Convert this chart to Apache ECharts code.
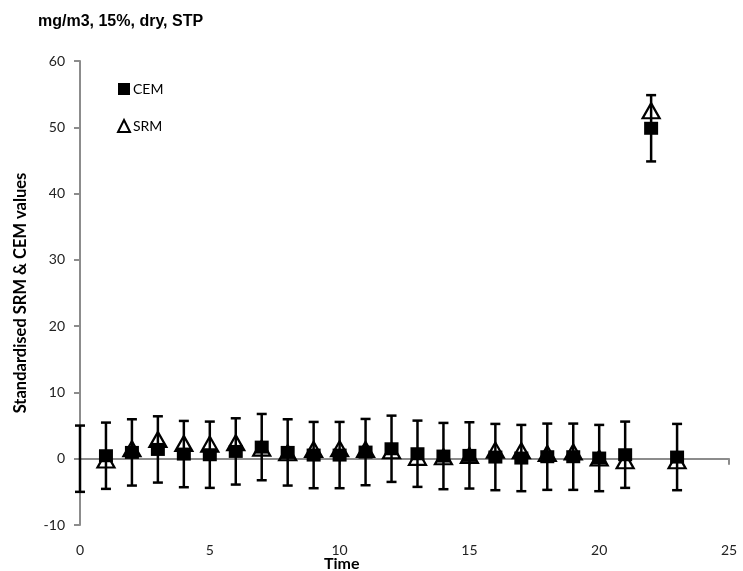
<!DOCTYPE html>
<html>
<head>
<meta charset="utf-8">
<script src="https://cdn.jsdelivr.net/npm/echarts@6/dist/echarts.min.js"></script>
<style>
html,body{margin:0;padding:0;background:#fff;}
#chart{width:743px;height:571px;}
</style>
</head>
<body>
<div id="chart"></div>
<script>
// ---- data ----
const times = [1,2,3,4,5,6,7,8,9,10,11,12,13,14,15,16,17,18,19,20,21,22,23];
const cem   = [0.45,0.95,1.4,0.7,0.6,1.1,1.75,0.95,0.55,0.55,1.0,1.5,0.75,0.4,0.5,0.25,0.1,0.3,0.3,0.1,0.6,49.85,0.25];
const srm   = [-0.2,1.5,2.9,2.3,2.2,2.4,1.6,0.9,1.4,1.5,1.4,1.2,0.2,0.3,0.5,1.3,1.2,0.8,1.0,0.1,-0.3,52.5,-0.3];
// error bars (CEM ± 5), plus a lone bar drawn at time 0
const errX    = [0].concat(times);
const errMid  = [0].concat(cem);
const errHalf = [5,5,5,5,5,5,5,5,5,5,5,5,5,5,5,5,5,5,5,5,5,5,5,5];
const xTicks = {min:0, max:25, interval:5};
const yTicks = {min:-10, max:60, interval:10};
const titleText = 'mg/m3, 15%, dry, STP';
const yTitle = 'Standardised SRM & CEM values';
const xTitle = 'Time';

const cemData = times.map((t,i)=>[t, cem[i]]);
const srmData = times.map((t,i)=>[t, srm[i]]);
const errData = errX.map((t,i)=>[t, errMid[i]-errHalf[i], errMid[i]+errHalf[i]]);

const tickFont = 'Lato';
const axisGray = '#8c8c8c';

const chart = echarts.init(document.getElementById('chart'), null, {renderer:'canvas'});
chart.setOption({
  animation:false,
  backgroundColor:'#fff',
  title:[
    {text:titleText, left:38, top:14, padding:0, textStyle:{fontFamily:'Liberation Sans', fontWeight:'bold', fontSize:16, color:'#000'}},
    {text:xTitle, left:324, top:556, padding:0, textStyle:{fontFamily:tickFont, fontWeight:'bold', fontSize:16, color:'#000'}}
  ],
  legend:{
    orient:'vertical', left:117, top:82, padding:0, itemWidth:12, itemHeight:12, itemGap:23,
    textStyle:{fontFamily:tickFont, fontSize:14, color:'#000', padding:[0,0,0,-2]},
    data:[
      {name:'CEM', icon:'rect', itemStyle:{color:'#000', opacity:1}},
      {name:'SRM', icon:'triangle', itemStyle:{color:'rgba(0,0,0,0)', borderColor:'#000', borderWidth:2, opacity:1}}
    ]
  },
  grid:{left:80, right:14, top:61, bottom:46, containLabel:false},
  xAxis:[
    {type:'value', min:xTicks.min, max:xTicks.max, interval:xTicks.interval,
     axisLine:{show:true, onZero:true, lineStyle:{color:axisGray, width:2}},
     axisTick:{show:true, inside:false, length:6, lineStyle:{color:axisGray, width:2}},
     axisLabel:{show:false}, splitLine:{show:false}},
    {type:'value', position:'bottom', min:xTicks.min, max:xTicks.max, interval:xTicks.interval,
     axisLine:{show:false, onZero:false}, axisTick:{show:false}, splitLine:{show:false},
     axisLabel:{show:true, margin:18, fontFamily:tickFont, fontSize:14, color:'#222'}}
  ],
  yAxis:{
    type:'value', min:yTicks.min, max:yTicks.max, interval:yTicks.interval,
    name:yTitle, nameLocation:'middle', nameGap:51, nameRotate:90,
    nameTextStyle:{fontFamily:tickFont, fontWeight:'bold', fontSize:16.5, color:'#000'},
    axisLine:{show:true, onZero:false, lineStyle:{color:axisGray, width:2}},
    axisTick:{show:true, length:6, lineStyle:{color:axisGray, width:2}},
    axisLabel:{margin:15, fontFamily:tickFont, fontSize:14, color:'#222'},
    splitLine:{show:false}
  },
  series:[
    {name:'SRM', type:'scatter', data:srmData, symbol:'triangle', symbolSize:[17,15], z:2,
     itemStyle:{color:'rgba(0,0,0,0)', borderColor:'#000', borderWidth:2.2, opacity:1}},
    {name:'err', type:'custom', data:errData, z:3, clip:false,
     encode:{x:0, y:[1,2]},
     renderItem:function(params, api){
       const x = api.value(0), lo = api.value(1), hi = api.value(2);
       const pt = api.coord([x, hi]), pb = api.coord([x, lo]);
       const cw = 5;
       const st = {stroke:'#000', lineWidth:2.5};
       return {type:'group', children:[
         {type:'line', shape:{x1:pt[0], y1:pt[1], x2:pb[0], y2:pb[1]}, style:st},
         {type:'line', shape:{x1:pt[0]-cw, y1:pt[1], x2:pt[0]+cw, y2:pt[1]}, style:st},
         {type:'line', shape:{x1:pb[0]-cw, y1:pb[1], x2:pb[0]+cw, y2:pb[1]}, style:st}
       ]};
     }},
    {name:'CEM', type:'scatter', data:cemData, symbol:'rect', symbolSize:[14,13], z:4,
     itemStyle:{color:'#000', opacity:1}}
  ]
});
</script>
</body>
</html>
